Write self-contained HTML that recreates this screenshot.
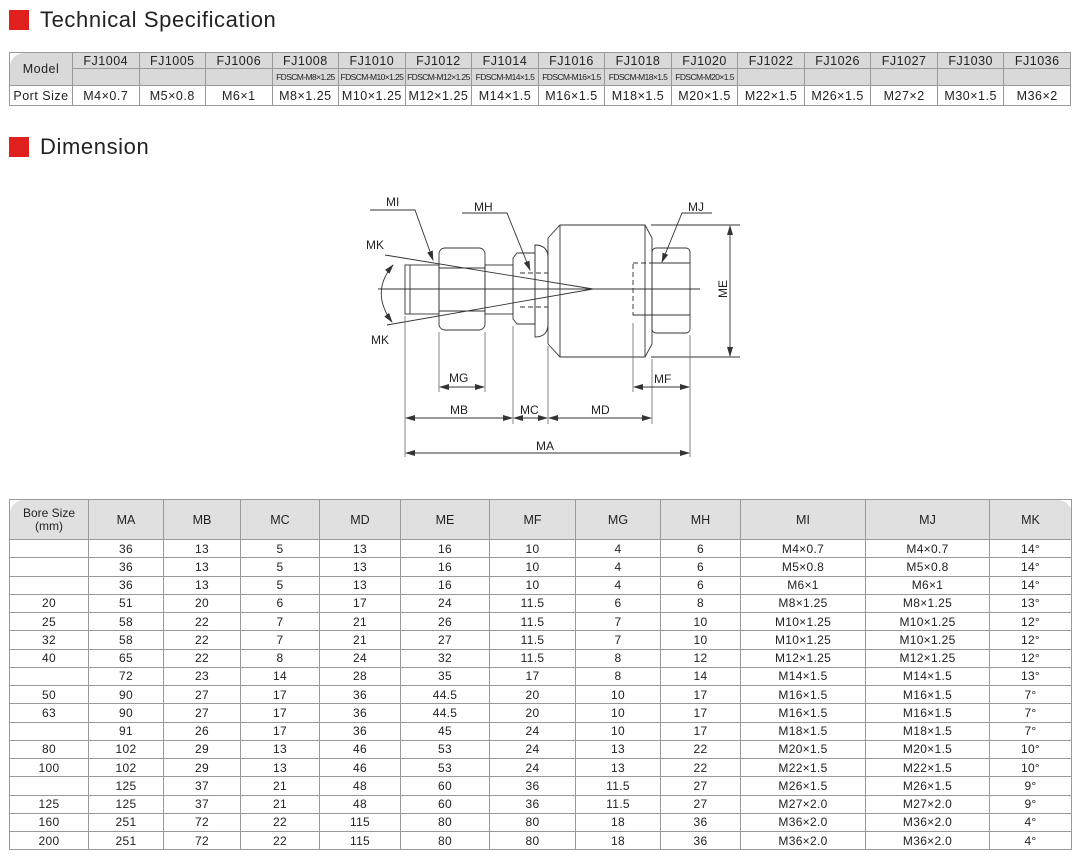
<!DOCTYPE html>
<html><head><meta charset="utf-8"><style>
*{margin:0;padding:0;box-sizing:border-box}
body{width:1082px;height:865px;background:#fff;font-family:"Liberation Sans",sans-serif;color:#222;position:relative;overflow:hidden}
.t{position:absolute;left:40px;font-size:22px;letter-spacing:0.6px;color:#222}
.sq{position:absolute;left:9px;width:20px;height:20px;background:#e0201c}
table{position:absolute;border-collapse:collapse;table-layout:fixed}
td{border:1px solid #999;text-align:center;font-size:12.5px;padding:0;white-space:nowrap;overflow:hidden}
#spec{left:9px;top:52px;width:1062px}
#spec td{font-size:12.5px;letter-spacing:0.5px}
#spec .g{background:#d9d9d9}
#spec .s{font-size:8.5px;letter-spacing:-0.6px;background:#d9d9d9}
#dim{left:9px;top:499px;width:1062px}
#dim td{height:18.25px;font-size:12px;letter-spacing:0.3px}
#dim tr.h td{background:#e0e0e0;height:40px;font-size:12.5px;letter-spacing:0}
</style></head><body>
<div class="sq" style="top:10px"></div><div class="t" style="top:7px">Technical Specification</div>
<div class="sq" style="top:137px"></div><div class="t" style="top:134px">Dimension</div>

<table id="spec">
<colgroup><col style="width:63px"><col span="15"></colgroup>
<tr style="height:16px"><td class="g" rowspan="2" style="border-top-left-radius:14px;font-size:12.5px">Model</td><td class="g">FJ1004</td><td class="g">FJ1005</td><td class="g">FJ1006</td><td class="g">FJ1008</td><td class="g">FJ1010</td><td class="g">FJ1012</td><td class="g">FJ1014</td><td class="g">FJ1016</td><td class="g">FJ1018</td><td class="g">FJ1020</td><td class="g">FJ1022</td><td class="g">FJ1026</td><td class="g">FJ1027</td><td class="g">FJ1030</td><td class="g">FJ1036</td></tr>
<tr style="height:17px"><td class="s"></td><td class="s"></td><td class="s"></td><td class="s">FDSCM-M8×1.25</td><td class="s">FDSCM-M10×1.25</td><td class="s">FDSCM-M12×1.25</td><td class="s">FDSCM-M14×1.5</td><td class="s">FDSCM-M16×1.5</td><td class="s">FDSCM-M18×1.5</td><td class="s">FDSCM-M20×1.5</td><td class="s"></td><td class="s"></td><td class="s"></td><td class="s"></td><td class="s"></td></tr>
<tr style="height:20px"><td style="font-size:12.5px">Port Size</td><td>M4×0.7</td><td>M5×0.8</td><td>M6×1</td><td>M8×1.25</td><td>M10×1.25</td><td>M12×1.25</td><td>M14×1.5</td><td>M16×1.5</td><td>M18×1.5</td><td>M20×1.5</td><td>M22×1.5</td><td>M26×1.5</td><td>M27×2</td><td>M30×1.5</td><td>M36×2</td></tr>
</table>

<svg style="position:absolute;left:0;top:0" width="1082" height="480" font-family="Liberation Sans, sans-serif" font-size="12" fill="none" stroke="#333" stroke-width="0.9">
<defs><marker id="a" markerWidth="10" markerHeight="6" refX="9" refY="3" orient="auto-start-reverse" markerUnits="userSpaceOnUse"><path d="M0,0 L10,3 L0,6 z" fill="#333" stroke="none"/></marker></defs>
<line x1="378" y1="289" x2="700" y2="289"/>
<rect x="405" y="265" width="34" height="49"/><line x1="410" y1="265" x2="410" y2="314"/>
<rect x="439" y="248" width="46" height="82" rx="6"/><line x1="439" y1="268" x2="485" y2="268"/><line x1="439" y1="311" x2="485" y2="311"/>
<rect x="485" y="265" width="28" height="49"/>
<path d="M513,258 L517,253 L535,253 L535,324 L517,324 L513,319 Z"/>
<path d="M535,245 Q548,245 548,258 L548,324 Q548,337 535,337 Z"/>
<path d="M548,238 L560,225 L645,225 L652,238 L652,344 L645,357 L560,357 L548,344 Z"/>
<line x1="560" y1="225" x2="560" y2="357"/><line x1="645" y1="225" x2="645" y2="357"/>
<rect x="652" y="248" width="38" height="85" rx="4"/><line x1="652" y1="263" x2="690" y2="263"/><line x1="652" y1="315" x2="690" y2="315"/>
<g stroke-dasharray="5,3"><rect x="633" y="263" width="19" height="52"/><line x1="633" y1="263" x2="690" y2="263"/><line x1="633" y1="315" x2="690" y2="315"/>
<line x1="520" y1="273" x2="548" y2="273"/><line x1="520" y1="307" x2="548" y2="307"/></g>
<line x1="385" y1="255" x2="593" y2="289"/><line x1="387" y1="325" x2="593" y2="289"/>
<path d="M393,265 Q370,292 392,322" marker-start="url(#a)" marker-end="url(#a)"/>
<polyline points="370,210 415,210 433,260" marker-end="url(#a)"/>
<polyline points="462,213 507,213 530,270" marker-end="url(#a)"/>
<polyline points="712,213 682,213 662,262" marker-end="url(#a)"/>
<line x1="651" y1="225" x2="740" y2="225"/><line x1="651" y1="357" x2="740" y2="357"/>
<line x1="730" y1="226" x2="730" y2="356" marker-start="url(#a)" marker-end="url(#a)"/>
<g stroke="#666" stroke-width="0.8">
<line x1="405" y1="316" x2="405" y2="457"/><line x1="439" y1="332" x2="439" y2="392"/><line x1="485" y1="332" x2="485" y2="392"/>
<line x1="513" y1="326" x2="513" y2="424"/><line x1="548" y1="346" x2="548" y2="424"/><line x1="652" y1="359" x2="652" y2="424"/>
<line x1="633" y1="323" x2="633" y2="392"/><line x1="690" y1="335" x2="690" y2="457"/></g>
<line x1="440" y1="387" x2="484" y2="387" marker-start="url(#a)" marker-end="url(#a)"/>
<line x1="634" y1="387" x2="689" y2="387" marker-start="url(#a)" marker-end="url(#a)"/>
<line x1="406" y1="418" x2="512" y2="418" marker-start="url(#a)" marker-end="url(#a)"/>
<line x1="514" y1="418" x2="547" y2="418" marker-start="url(#a)" marker-end="url(#a)"/>
<line x1="549" y1="418" x2="651" y2="418" marker-start="url(#a)" marker-end="url(#a)"/>
<line x1="406" y1="453" x2="689" y2="453" marker-start="url(#a)" marker-end="url(#a)"/>
<g fill="#222" stroke="none">
<text x="386" y="206">MI</text><text x="474" y="211">MH</text><text x="688" y="211">MJ</text>
<text x="366" y="249">MK</text><text x="371" y="344">MK</text>
<text x="449" y="382">MG</text><text x="450" y="414">MB</text><text x="520" y="414">MC</text><text x="591" y="414">MD</text>
<text x="654" y="383">MF</text><text x="536" y="450">MA</text>
<text transform="translate(727,289) rotate(-90)" text-anchor="middle">ME</text></g>
</svg>

<table id="dim">
<colgroup><col style="width:79px"><col style="width:75px"><col style="width:77px"><col style="width:79px"><col style="width:81px"><col style="width:89px"><col style="width:86px"><col style="width:85px"><col style="width:80px"><col style="width:125px"><col style="width:124px"><col style="width:82px"></colgroup>
<tr class="h"><td style="border-top-left-radius:14px;font-size:12px;line-height:13px">Bore Size<br>(mm)</td><td>MA</td><td>MB</td><td>MC</td><td>MD</td><td>ME</td><td>MF</td><td>MG</td><td>MH</td><td>MI</td><td>MJ</td><td style="border-top-right-radius:14px">MK</td></tr>
<tr><td></td><td>36</td><td>13</td><td>5</td><td>13</td><td>16</td><td>10</td><td>4</td><td>6</td><td>M4×0.7</td><td>M4×0.7</td><td>14°</td></tr>
<tr><td></td><td>36</td><td>13</td><td>5</td><td>13</td><td>16</td><td>10</td><td>4</td><td>6</td><td>M5×0.8</td><td>M5×0.8</td><td>14°</td></tr>
<tr><td></td><td>36</td><td>13</td><td>5</td><td>13</td><td>16</td><td>10</td><td>4</td><td>6</td><td>M6×1</td><td>M6×1</td><td>14°</td></tr>
<tr><td>20</td><td>51</td><td>20</td><td>6</td><td>17</td><td>24</td><td>11.5</td><td>6</td><td>8</td><td>M8×1.25</td><td>M8×1.25</td><td>13°</td></tr>
<tr><td>25</td><td>58</td><td>22</td><td>7</td><td>21</td><td>26</td><td>11.5</td><td>7</td><td>10</td><td>M10×1.25</td><td>M10×1.25</td><td>12°</td></tr>
<tr><td>32</td><td>58</td><td>22</td><td>7</td><td>21</td><td>27</td><td>11.5</td><td>7</td><td>10</td><td>M10×1.25</td><td>M10×1.25</td><td>12°</td></tr>
<tr><td>40</td><td>65</td><td>22</td><td>8</td><td>24</td><td>32</td><td>11.5</td><td>8</td><td>12</td><td>M12×1.25</td><td>M12×1.25</td><td>12°</td></tr>
<tr><td></td><td>72</td><td>23</td><td>14</td><td>28</td><td>35</td><td>17</td><td>8</td><td>14</td><td>M14×1.5</td><td>M14×1.5</td><td>13°</td></tr>
<tr><td>50</td><td>90</td><td>27</td><td>17</td><td>36</td><td>44.5</td><td>20</td><td>10</td><td>17</td><td>M16×1.5</td><td>M16×1.5</td><td>7°</td></tr>
<tr><td>63</td><td>90</td><td>27</td><td>17</td><td>36</td><td>44.5</td><td>20</td><td>10</td><td>17</td><td>M16×1.5</td><td>M16×1.5</td><td>7°</td></tr>
<tr><td></td><td>91</td><td>26</td><td>17</td><td>36</td><td>45</td><td>24</td><td>10</td><td>17</td><td>M18×1.5</td><td>M18×1.5</td><td>7°</td></tr>
<tr><td>80</td><td>102</td><td>29</td><td>13</td><td>46</td><td>53</td><td>24</td><td>13</td><td>22</td><td>M20×1.5</td><td>M20×1.5</td><td>10°</td></tr>
<tr><td>100</td><td>102</td><td>29</td><td>13</td><td>46</td><td>53</td><td>24</td><td>13</td><td>22</td><td>M22×1.5</td><td>M22×1.5</td><td>10°</td></tr>
<tr><td></td><td>125</td><td>37</td><td>21</td><td>48</td><td>60</td><td>36</td><td>11.5</td><td>27</td><td>M26×1.5</td><td>M26×1.5</td><td>9°</td></tr>
<tr><td>125</td><td>125</td><td>37</td><td>21</td><td>48</td><td>60</td><td>36</td><td>11.5</td><td>27</td><td>M27×2.0</td><td>M27×2.0</td><td>9°</td></tr>
<tr><td>160</td><td>251</td><td>72</td><td>22</td><td>115</td><td>80</td><td>80</td><td>18</td><td>36</td><td>M36×2.0</td><td>M36×2.0</td><td>4°</td></tr>
<tr><td style="border-bottom-left-radius:14px">200</td><td>251</td><td>72</td><td>22</td><td>115</td><td>80</td><td>80</td><td>18</td><td>36</td><td>M36×2.0</td><td>M36×2.0</td><td style="border-bottom-right-radius:14px">4°</td></tr>
</table>
</body></html>
